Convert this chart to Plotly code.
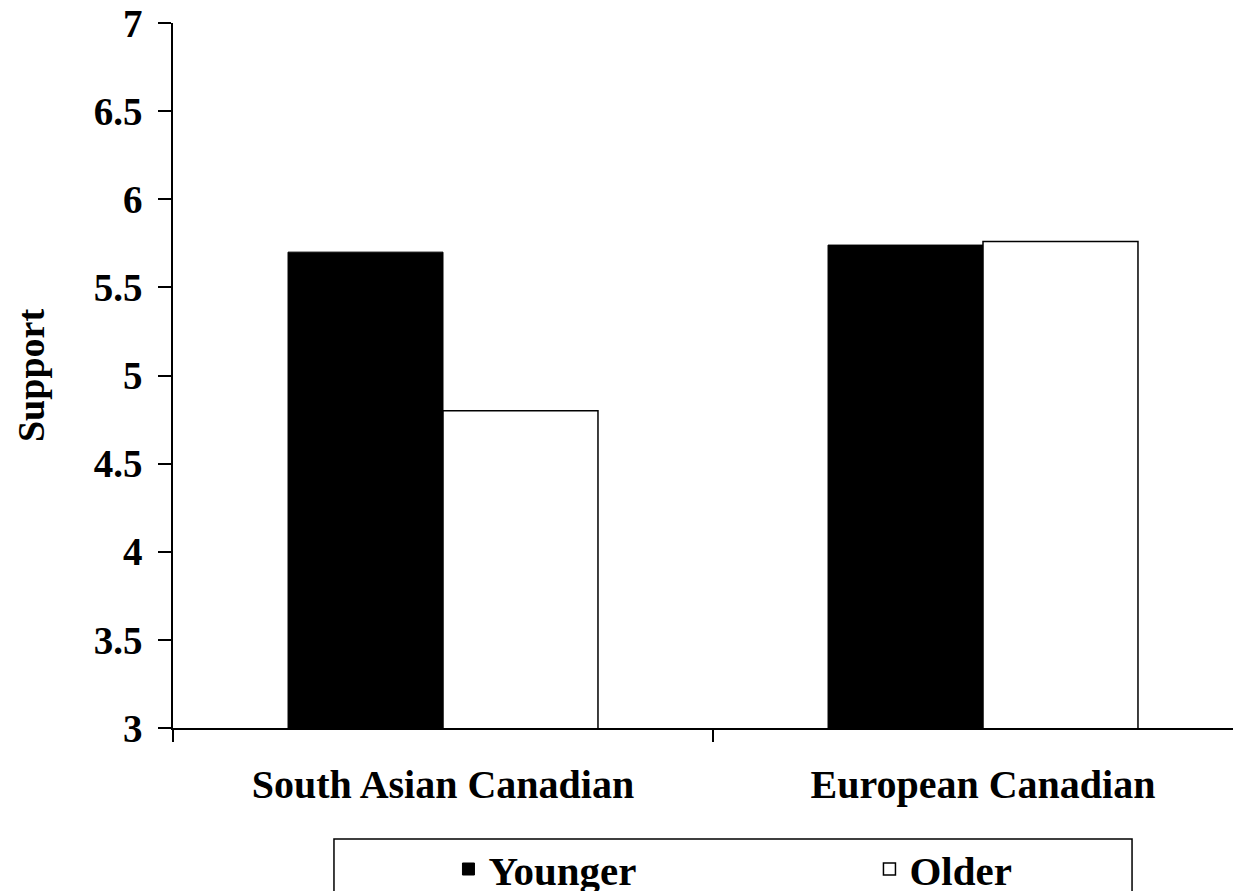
import plotly.graph_objects as go

categories = ["South Asian Canadian", "European Canadian"]
younger = [5.70, 5.74]
older = [4.80, 5.76]
series_names = ["Younger", "Older"]
y_ticks = [3, 3.5, 4, 4.5, 5, 5.5, 6, 6.5, 7]
y_ticklabels = ["3", "3.5", "4", "4.5", "5", "5.5", "6", "6.5", "7"]

FONT = "Liberation Serif, Times New Roman, serif"

fig = go.Figure()
fig.add_trace(go.Bar(
    x=categories, y=younger, name=series_names[0], base=0,
    marker=dict(color="black", line=dict(color="black", width=1)),
))
fig.add_trace(go.Bar(
    x=categories, y=older, name=series_names[1], base=0,
    marker=dict(color="white", line=dict(color="black", width=1.5)),
))

fig.update_layout(
    width=1241, height=891,
    margin=dict(l=165, r=0, t=15, b=171, autoexpand=False),
    paper_bgcolor="white", plot_bgcolor="white",
    barmode="group", bargap=0.426, bargroupgap=0,
    font=dict(family=FONT, color="black", size=38, weight="bold"),
    showlegend=True,
    legend=dict(
        orientation="h", x=0.256, xanchor="left", y=-0.153, yanchor="top",
        borderwidth=0, bgcolor="rgba(0,0,0,0)",
        font=dict(family=FONT, size=41, color="black", weight="bold"),
        entrywidth=376, traceorder="normal",
    ),
    shapes=[dict(
        type="rect", xref="paper", yref="paper",
        x0=0.1496, x1=0.8913, y0=-0.1574, y1=-0.40,
        line=dict(color="black", width=1.5), fillcolor="rgba(0,0,0,0)",
        layer="below",
    )],
)
fig.update_xaxes(
    type="category", categoryorder="array", categoryarray=categories,
    range=[-0.5, 1.4926], automargin=False,
    showline=True, linecolor="black", linewidth=1.5,
    ticks="outside", tickson="boundaries", ticklen=12, tickwidth=1.5, tickcolor="black",
    tickfont=dict(family=FONT, size=40, color="black", weight="bold"),
    ticklabelstandoff=20, ticklabeloverflow="allow",
    showgrid=False, zeroline=False,
)
fig.update_yaxes(
    range=[3, 7], tickvals=y_ticks, ticktext=y_ticklabels, automargin=False,
    showline=True, linecolor="black", linewidth=1.5,
    ticks="outside", ticklen=13, tickwidth=1.5, tickcolor="black",
    tickfont=dict(family=FONT, size=39, color="black", weight="bold"),
    ticklabelstandoff=8, ticklabeloverflow="allow",
    showgrid=False, zeroline=False,
    title=dict(text="Support", font=dict(family=FONT, size=38, color="black", weight="bold"), standoff=37),
)

fig.write_html("out.html")
